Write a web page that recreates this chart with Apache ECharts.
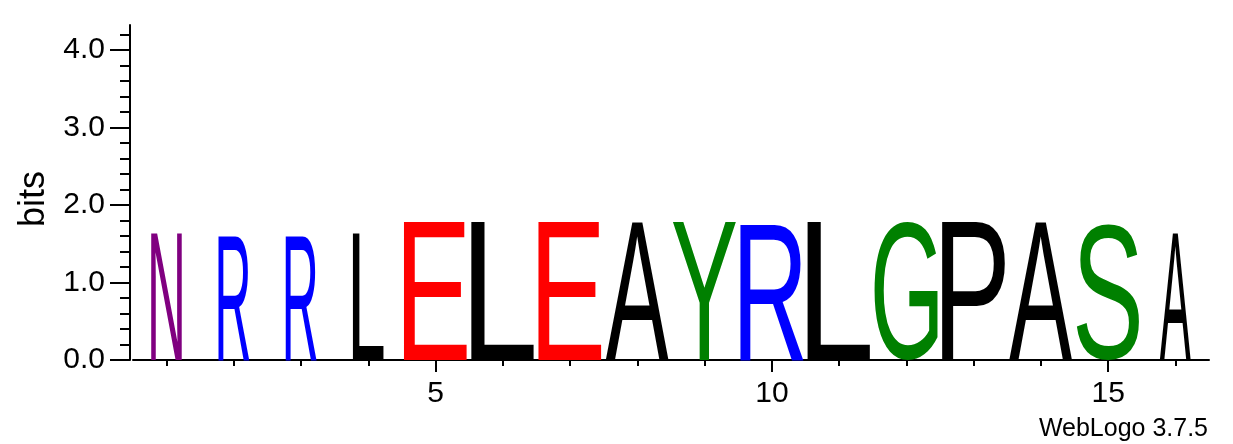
<!DOCTYPE html>
<html>
<head>
<meta charset="utf-8">
<script src="https://cdn.jsdelivr.net/npm/echarts@6/dist/echarts.min.js"></script>
<style>
html,body{margin:0;padding:0;background:#ffffff;}
#chart{width:1233px;height:444px;}
</style>
</head>
<body>
<div id="chart"></div>
<script>
// ---- data ----
const positions = [1, 2, 3, 4, 5, 6, 7, 8, 9, 10, 11, 12, 13, 14, 15, 16];
const letters = ['N', 'R', 'R', 'L', 'E', 'L', 'E', 'A', 'Y', 'R', 'L', 'G', 'P', 'A', 'S', 'A'];
const bits = [1.63, 1.63, 1.63, 1.63, 1.78, 1.78, 1.78, 1.78, 1.78, 1.78, 1.78, 1.78, 1.78, 1.78, 1.78, 1.63];
const stackWeights = [0.49, 0.49, 0.49, 0.49, 1, 1, 1, 1, 1, 1, 1, 1, 1, 1, 1, 0.49];
const yMajorTicks = [0, 1, 2, 3, 4];
const yMinorTicks = [0.2, 0.4, 0.6, 0.8, 1.2, 1.4, 1.6, 1.8, 2.2, 2.4, 2.6, 2.8, 3.2, 3.4, 3.6, 3.8, 4.2];
const xMinorTicks = positions;
const xLabelTicks = [5, 10, 15];
const yMax = 4.3219; // log2(20)
const colorScheme = {
  N: '#800080', Q: '#800080',
  R: '#0000ff', K: '#0000ff', H: '#0000ff',
  E: '#ff0000', D: '#ff0000',
  G: '#008000', S: '#008000', T: '#008000', Y: '#008000', C: '#008000',
  A: '#000000', L: '#000000', P: '#000000', V: '#000000', I: '#000000', M: '#000000', F: '#000000', W: '#000000'
};

const FONT_FAMILY = '"Liberation Sans", Arial, Helvetica, sans-serif';
const GLYPH_FONT = '100px ' + FONT_FAMILY;
const glyphCache = {};
function glyphMetrics(ch) {
  if (!glyphCache[ch]) {
    const ctx = document.createElement('canvas').getContext('2d');
    ctx.font = GLYPH_FONT;
    ctx.textAlign = 'center';
    ctx.textBaseline = 'middle';
    const m = ctx.measureText(ch);
    glyphCache[ch] = {
      l: m.actualBoundingBoxLeft,
      r: m.actualBoundingBoxRight,
      a: m.actualBoundingBoxAscent,
      d: m.actualBoundingBoxDescent
    };
  }
  return glyphCache[ch];
}

function renderItem(params, api) {
  const i = params.dataIndex;
  const x = api.value(0);
  const h = api.value(1);
  const w = api.value(2);
  const ch = letters[i];
  const half = w * 0.4725;
  const p0 = api.coord([x - half, h]);
  const p1 = api.coord([x + half, 0]);
  const g = glyphMetrics(ch);
  const sx = (p1[0] - p0[0]) / (g.l + g.r);
  const sy = (p1[1] - p0[1]) / (g.a + g.d);
  return {
    type: 'text',
    x: p0[0] + g.l * sx,
    y: p0[1] + g.a * sy,
    scaleX: sx,
    scaleY: sy,
    silent: true,
    style: {
      text: ch,
      x: 0,
      y: 0,
      font: GLYPH_FONT,
      fill: colorScheme[ch] || '#000000',
      align: 'center',
      verticalAlign: 'middle'
    }
  };
}

const chart = echarts.init(document.getElementById('chart'));
const axisColor = '#000000';
chart.setOption({
  animation: false,
  backgroundColor: '#ffffff',
  grid: { left: 133, right: 24, top: 25, bottom: 84, containLabel: false },
  xAxis: [
    {
      type: 'value', min: 0.5, max: 16.5, position: 'bottom',
      axisLine: { show: true, onZero: false, lineStyle: { color: axisColor, width: 2 } },
      axisTick: { show: true, customValues: xMinorTicks, length: 6, lineStyle: { color: axisColor, width: 2 } },
      axisLabel: { show: true, customValues: xLabelTicks, fontSize: 30, color: '#000', fontFamily: FONT_FAMILY, margin: 19 },
      splitLine: { show: false }
    },
    {
      type: 'value', min: 0.5, max: 16.5, position: 'bottom',
      axisLine: { show: false, onZero: false },
      axisTick: { show: true, customValues: xLabelTicks, length: 12, lineStyle: { color: axisColor, width: 2 } },
      axisLabel: { show: false },
      splitLine: { show: false }
    }
  ],
  yAxis: [
    {
      type: 'value', min: 0, max: yMax, position: 'left', offset: 3,
      axisLine: { show: true, onZero: false, lineStyle: { color: axisColor, width: 2 } },
      axisTick: { show: true, customValues: yMajorTicks, length: 20, lineStyle: { color: axisColor, width: 2 } },
      axisLabel: { show: true, customValues: yMajorTicks, formatter: v => Number(v).toFixed(1), fontSize: 30, color: '#000', fontFamily: FONT_FAMILY, margin: 25 },
      splitLine: { show: false },
      name: 'bits', nameLocation: 'middle', nameRotate: 90, nameGap: 76,
      nameTextStyle: { fontSize: 36, color: '#000', fontFamily: FONT_FAMILY, padding: [0, 13, 0, 0] }
    },
    {
      type: 'value', min: 0, max: yMax, position: 'left', offset: 3,
      axisLine: { show: false, onZero: false },
      axisTick: { show: true, customValues: yMinorTicks, length: 10, lineStyle: { color: axisColor, width: 2 } },
      axisLabel: { show: false },
      splitLine: { show: false }
    }
  ],
  graphic: [
    {
      type: 'text', right: 25, bottom: 2,
      style: { text: 'WebLogo 3.7.5', font: '25px ' + FONT_FAMILY, fill: '#000000' }
    }
  ],
  series: [
    {
      type: 'custom',
      xAxisIndex: 0, yAxisIndex: 0,
      renderItem: renderItem,
      encode: { x: 0, y: 1 },
      clip: false,
      data: positions.map((p, i) => [p, bits[i], stackWeights[i]])
    }
  ]
});
</script>
</body>
</html>
